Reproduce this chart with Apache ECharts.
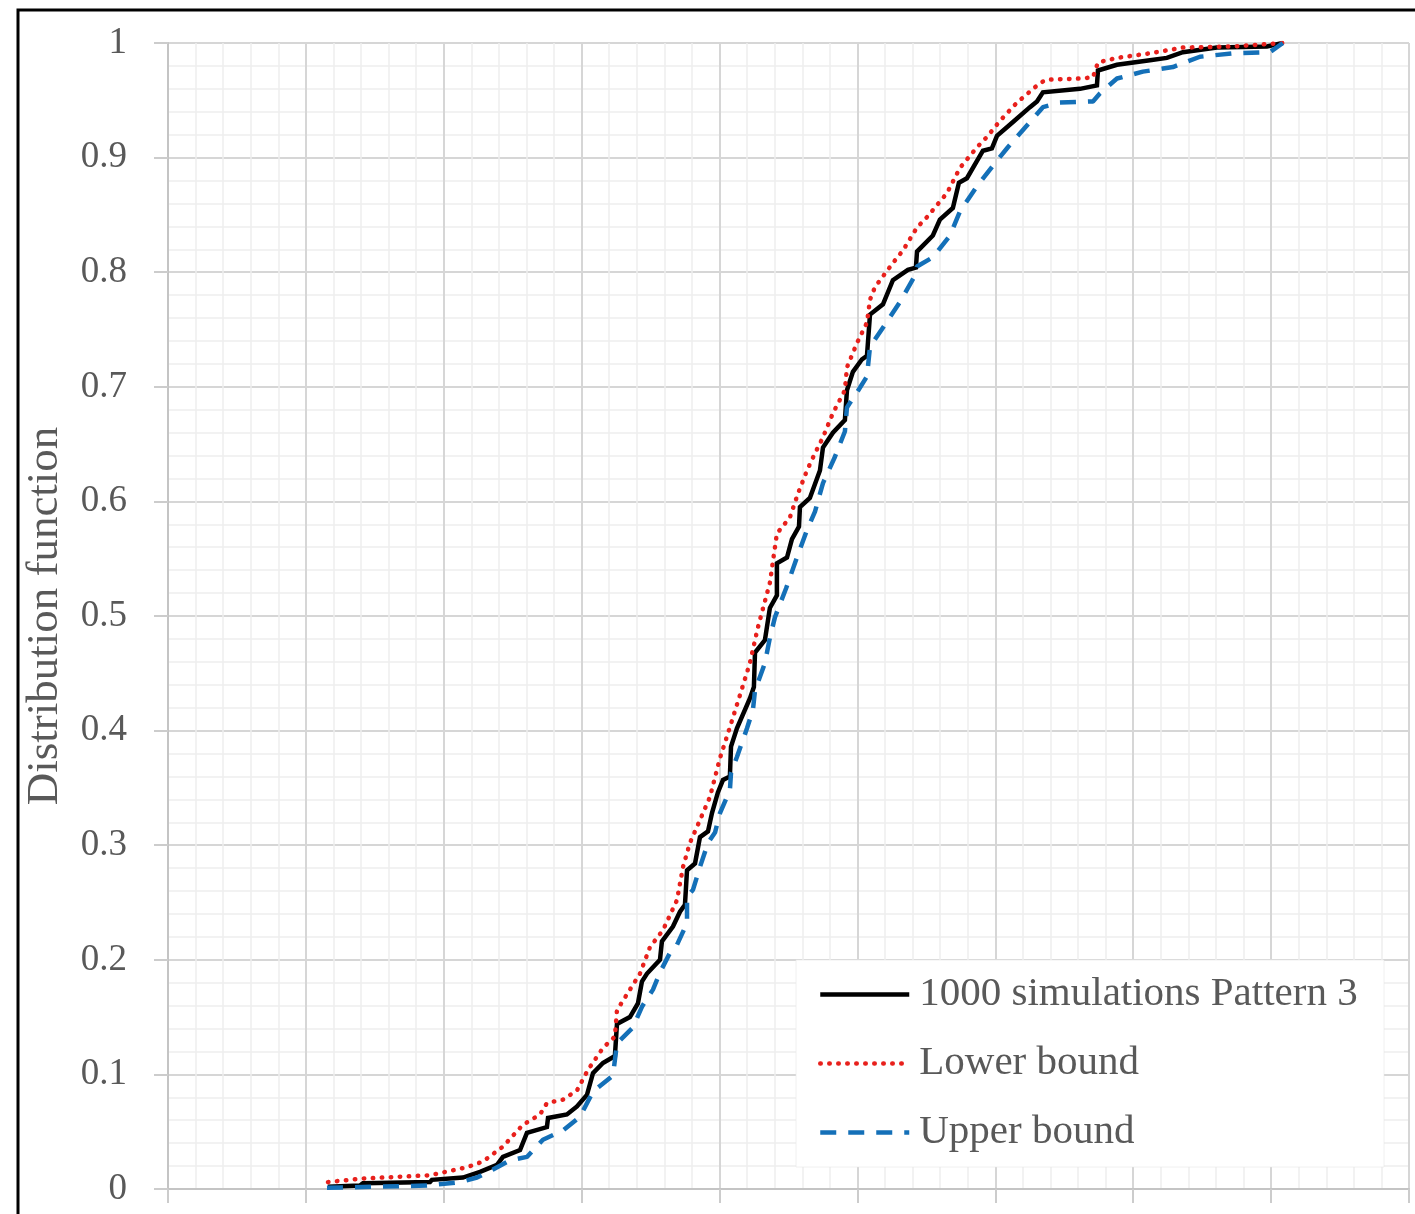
<!DOCTYPE html>
<html>
<head>
<meta charset="utf-8">
<script src="https://cdn.jsdelivr.net/npm/echarts@6/dist/echarts.min.js"></script>
<style>
  html, body { margin: 0; padding: 0; background: #ffffff; }
  #chart { width: 1415px; height: 1214px; }
</style>
</head>
<body>
<div id="chart"></div>
<script>
// Empirical distribution functions, [x, F(x)] pairs
const simCdf = [
  [1.160,0.002],[1.392,0.003],[1.414,0.005],[1.900,0.006],[1.914,0.008],[2.139,0.010],
  [2.263,0.015],[2.386,0.021],[2.429,0.028],[2.553,0.034],[2.603,0.049],[2.748,0.054],
  [2.756,0.062],[2.893,0.065],[2.966,0.072],[3.038,0.082],[3.082,0.101],[3.154,0.110],
  [3.241,0.116],[3.256,0.144],[3.350,0.150],[3.408,0.162],[3.437,0.181],[3.474,0.188],
  [3.568,0.200],[3.582,0.216],[3.662,0.229],[3.713,0.242],[3.749,0.248],[3.764,0.278],
  [3.822,0.284],[3.858,0.307],[3.916,0.312],[3.945,0.328],[3.988,0.346],[4.025,0.357],
  [4.075,0.360],[4.083,0.386],[4.126,0.402],[4.220,0.428],[4.249,0.438],[4.257,0.468],
  [4.329,0.479],[4.365,0.507],[4.416,0.518],[4.416,0.546],[4.489,0.551],[4.525,0.567],
  [4.576,0.578],[4.583,0.595],[4.655,0.603],[4.728,0.627],[4.750,0.647],[4.822,0.660],
  [4.909,0.671],[4.924,0.697],[4.967,0.713],[5.033,0.724],[5.069,0.727],[5.091,0.763],
  [5.185,0.772],[5.257,0.793],[5.366,0.802],[5.424,0.804],[5.432,0.818],[5.547,0.832],
  [5.598,0.846],[5.692,0.856],[5.736,0.878],[5.794,0.882],[5.910,0.906],[5.975,0.908],
  [6.012,0.919],[6.128,0.931],[6.251,0.944],[6.302,0.949],[6.345,0.957],[6.614,0.960],
  [6.737,0.963],[6.744,0.976],[6.882,0.981],[7.121,0.985],[7.244,0.987],[7.360,0.992],
  [7.607,0.996],[7.970,0.997],[8.085,1.000]
];

const lowerCdf = [
  [1.160,0.006],[1.392,0.009],[1.900,0.012],[2.168,0.019],[2.284,0.024],[2.429,0.037],
  [2.574,0.056],[2.698,0.065],[2.748,0.075],[2.864,0.078],[2.966,0.086],[3.046,0.104],
  [3.154,0.123],[3.241,0.133],[3.256,0.156],[3.350,0.174],[3.423,0.188],[3.495,0.211],
  [3.590,0.226],[3.691,0.252],[3.735,0.281],[3.785,0.302],[3.858,0.322],[3.930,0.342],
  [4.003,0.376],[4.075,0.403],[4.148,0.431],[4.220,0.459],[4.278,0.490],[4.365,0.529],
  [4.416,0.572],[4.510,0.586],[4.569,0.607],[4.634,0.627],[4.692,0.642],[4.750,0.656],
  [4.822,0.677],[4.909,0.697],[4.924,0.717],[4.996,0.738],[5.069,0.756],[5.091,0.776],
  [5.127,0.787],[5.257,0.808],[5.330,0.819],[5.432,0.839],[5.504,0.848],[5.649,0.869],
  [5.743,0.891],[5.867,0.909],[5.939,0.918],[6.033,0.932],[6.157,0.948],[6.323,0.965],
  [6.374,0.968],[6.614,0.969],[6.708,0.970],[6.744,0.983],[6.882,0.987],[7.121,0.991],
  [7.360,0.996],[7.723,0.997],[8.085,1.000]
];

const upperCdf = [
  [1.153,0.001],[1.878,0.003],[2.117,0.006],[2.241,0.010],[2.357,0.017],[2.480,0.025],
  [2.603,0.028],[2.719,0.043],[2.864,0.051],[2.988,0.063],[3.082,0.085],[3.227,0.099],
  [3.256,0.127],[3.372,0.141],[3.437,0.159],[3.517,0.174],[3.568,0.189],[3.640,0.206],
  [3.691,0.213],[3.764,0.232],[3.764,0.255],[3.807,0.261],[3.858,0.281],[3.916,0.302],
  [3.967,0.311],[4.003,0.328],[4.075,0.348],[4.083,0.363],[4.126,0.377],[4.199,0.402],
  [4.242,0.418],[4.257,0.435],[4.329,0.459],[4.365,0.481],[4.402,0.499],[4.482,0.524],
  [4.561,0.551],[4.634,0.575],[4.692,0.591],[4.750,0.616],[4.837,0.639],[4.909,0.661],
  [4.924,0.682],[4.946,0.686],[4.996,0.695],[5.069,0.709],[5.091,0.735],[5.199,0.754],
  [5.308,0.774],[5.417,0.797],[5.432,0.805],[5.547,0.813],[5.671,0.832],[5.743,0.853],
  [5.867,0.875],[5.983,0.893],[6.091,0.909],[6.178,0.921],[6.251,0.931],[6.345,0.944],
  [6.468,0.948],[6.708,0.949],[6.758,0.956],[6.882,0.969],[7.070,0.975],[7.288,0.979],
  [7.484,0.988],[7.723,0.991],[7.991,0.992],[8.085,1.000]
];

const seriesNames = ['1000 simulations Pattern 3', 'Lower bound', 'Upper bound'];
const yAxisTitle = 'Distribution function';

const FONT = '"Liberation Serif", "Times New Roman", serif';
const TEXT_COLOR = '#595959';

const chart = echarts.init(document.getElementById('chart'), null, { renderer: 'canvas' });

chart.setOption({
  animation: false,
  backgroundColor: '#ffffff',
  grid: { left: 168, right: 6, top: 43, bottom: 25, containLabel: false },
  graphic: [
    // outer frame
    { type: 'rect', z: 100, silent: true,
      shape: { x: 18, y: 10, width: 1500, height: 1500 },
      style: { fill: 'none', stroke: '#000000', lineWidth: 3 } },
    // legend panel
    { type: 'rect', z: 1, silent: true,
      shape: { x: 796, y: 960, width: 588, height: 207 },
      style: { fill: '#ffffff', stroke: 'rgba(230,230,230,0.6)', lineWidth: 1 } }
  ],
  legend: {
    orient: 'vertical',
    left: 818,
    top: 974,
    padding: 0,
    itemGap: 28,
    itemWidth: 89,
    itemHeight: 14,
    selectedMode: false,
    itemStyle: { opacity: 0 },
    lineStyle: { width: 4.5 },
    textStyle: { fontFamily: FONT, fontSize: 41, lineHeight: 40, color: TEXT_COLOR, padding: [0, 0, 0, 5] },
    data: seriesNames
  },
  xAxis: {
    type: 'value',
    min: 0, max: 9, interval: 1,
    axisLabel: { show: false },
    axisLine: { show: true, lineStyle: { color: '#c4c4c4', width: 2 } },
    axisTick: { show: true, inside: false, length: 14, lineStyle: { color: '#cccccc', width: 2 } },
    splitLine: { show: true, lineStyle: { color: '#d6d6d6', width: 2 } },
    minorTick: { show: false, splitNumber: 5 },
    minorSplitLine: { show: true, lineStyle: { color: '#eeeeee', width: 1.5 } }
  },
  yAxis: {
    type: 'value',
    min: 0, max: 1, interval: 0.1,
    name: yAxisTitle,
    nameLocation: 'middle',
    nameGap: 100,
    nameTextStyle: { fontFamily: FONT, fontSize: 45, color: TEXT_COLOR },
    axisLabel: { fontFamily: FONT, fontSize: 37, color: TEXT_COLOR, margin: 41 },
    axisLine: { show: true, lineStyle: { color: '#c4c4c4', width: 2 } },
    axisTick: { show: true, inside: false, length: 14, lineStyle: { color: '#cccccc', width: 2 } },
    splitLine: { show: true, lineStyle: { color: '#d6d6d6', width: 2 } },
    minorTick: { show: false, splitNumber: 5 },
    minorSplitLine: { show: true, lineStyle: { color: '#eeeeee', width: 1.5 } }
  },
  series: [
    {
      name: seriesNames[0], type: 'line', data: simCdf,
      symbol: 'none', showSymbol: false, z: 3,
      itemStyle: { color: '#000000' },
      lineStyle: { color: '#000000', width: 4.5, join: 'miter' }
    },
    {
      name: seriesNames[1], type: 'line', data: lowerCdf,
      symbol: 'none', showSymbol: false, z: 4,
      itemStyle: { color: '#e8201c' },
      lineStyle: { color: '#e8201c', width: 4.5, type: [0.5, 8.5], cap: 'round' }
    },
    {
      name: seriesNames[2], type: 'line', data: upperCdf,
      symbol: 'none', showSymbol: false, z: 5,
      itemStyle: { color: '#1470b8' },
      lineStyle: { color: '#1470b8', width: 4.5, type: [16, 12], cap: 'butt' }
    }
  ]
});
</script>
</body>
</html>
